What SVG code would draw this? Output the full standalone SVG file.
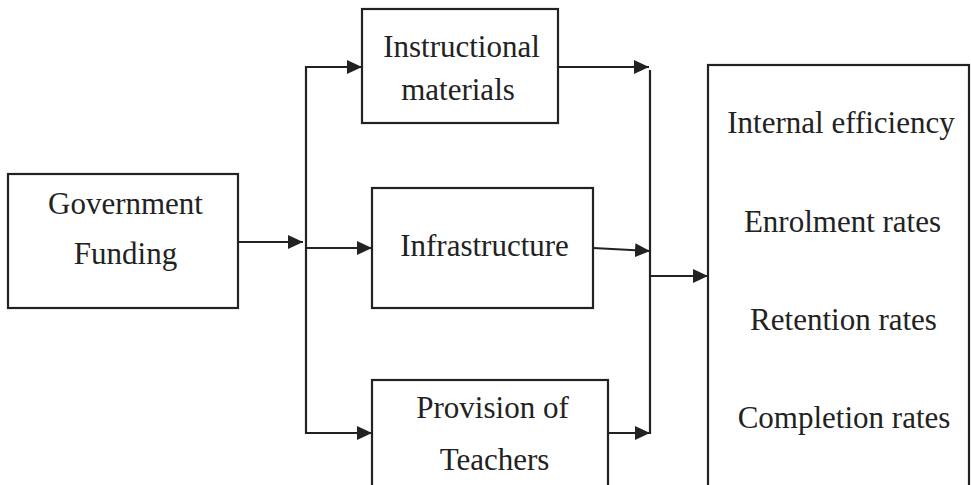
<svg xmlns="http://www.w3.org/2000/svg" width="971" height="485" viewBox="0 0 971 485">
<defs>
<style>
.box{fill:#fff;stroke:#222;stroke-width:2.2}
.ln{fill:none;stroke:#222;stroke-width:2.2}
.t{font-family:"Liberation Serif","Times New Roman","DejaVu Serif",serif;font-size:31px;fill:#222;text-anchor:middle}
</style>
<marker id="ah" viewBox="0 0 15 14" refX="15" refY="7" markerWidth="15" markerHeight="14" markerUnits="userSpaceOnUse" orient="auto">
<path d="M0,0 L15,7 L0,14 Z" fill="#222"/>
</marker>
</defs>
<rect width="971" height="485" fill="#fff"/>
<g id="connectors">
<line class="ln" x1="238" y1="242" x2="303" y2="242" marker-end="url(#ah)"/>
<line class="ln" x1="306" y1="66" x2="306" y2="434"/>
<line class="ln" x1="305" y1="67" x2="362" y2="67" marker-end="url(#ah)"/>
<line class="ln" x1="306" y1="248" x2="372" y2="248" marker-end="url(#ah)"/>
<line class="ln" x1="305" y1="433" x2="372" y2="433" marker-end="url(#ah)"/>
<line class="ln" x1="558" y1="67" x2="649" y2="67" marker-end="url(#ah)"/>
<line class="ln" x1="593" y1="248" x2="650" y2="251" marker-end="url(#ah)"/>
<line class="ln" x1="608" y1="433" x2="650" y2="433" marker-end="url(#ah)"/>
<line class="ln" x1="650" y1="70" x2="650" y2="434"/>
<line class="ln" x1="650" y1="276" x2="708" y2="276" marker-end="url(#ah)"/>
</g>
<g id="government-funding">
<rect class="box" x="8" y="174" width="230" height="134"/>
<text class="t" x="125.5" y="214">Government</text>
<text class="t" x="125.5" y="264">Funding</text>
</g>
<g id="instructional-materials">
<rect class="box" x="362" y="9" width="196" height="114"/>
<text class="t" x="461.5" y="57">Instructional</text>
<text class="t" x="458" y="100">materials</text>
</g>
<g id="infrastructure">
<rect class="box" x="372" y="188" width="221" height="120"/>
<text class="t" x="484.5" y="256">Infrastructure</text>
</g>
<g id="provision-of-teachers">
<rect class="box" x="372" y="380" width="236" height="120"/>
<text class="t" x="492.5" y="418">Provision of</text>
<text class="t" x="494.5" y="470">Teachers</text>
</g>
<g id="outcomes">
<rect class="box" x="708" y="65" width="261" height="440"/>
<text class="t" x="841" y="133">Internal efficiency</text>
<text class="t" x="842.5" y="232">Enrolment rates</text>
<text class="t" x="843.5" y="330">Retention rates</text>
<text class="t" x="844" y="428">Completion rates</text>
</g>
</svg>
